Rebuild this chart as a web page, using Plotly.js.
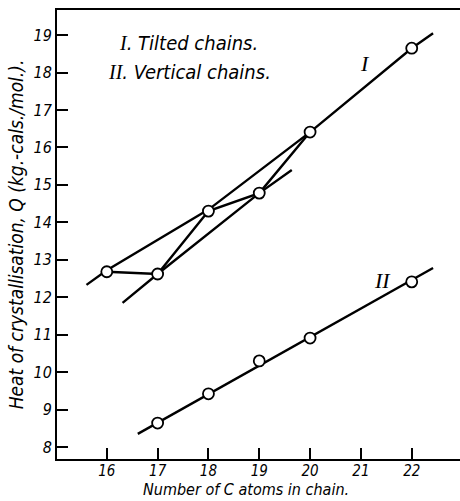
<!DOCTYPE html>
<html>
<head>
<meta charset="utf-8">
<script src="https://cdn.plot.ly/plotly-3.0.1.min.js"></script>
<style>html,body{margin:0;padding:0;background:#fff;}#chart{width:460px;height:501px;}</style>
</head>
<body>
<div id="chart"></div>
<script>
// Series I (tilted chains)
const cAtomsI = [16, 17, 18, 19, 20, 22];
const heatI = [12.68, 12.62, 14.30, 14.78, 16.41, 18.65];
// Series II (vertical chains)
const cAtomsII = [17, 18, 19, 20, 22];
const heatII = [8.64, 9.42, 10.30, 10.91, 12.41];
// Drawn lines
const evenLineX = [15.6, 16, 18, 20, 22, 22.42];
const evenLineY = [12.33, 12.72, 14.34, 16.41, 18.65, 19.05];
const oddLineX = [16.31, 17, 19, 19.64];
const oddLineY = [11.85, 12.62, 14.78, 15.40];
const zigX = [16, 17, 18, 19, 20];
const zigY = [12.68, 12.62, 14.30, 14.78, 16.41];
const fitIIX = [16.61, 22.42];
const fitIIY = [8.35, 12.78];
const xTicks = [16, 17, 18, 19, 20, 21, 22];
const yTicks = [8, 9, 10, 11, 12, 13, 14, 15, 16, 17, 18, 19];

const FONT = 'DejaVu Sans Condensed, Liberation Sans Narrow, DejaVu Sans, sans-serif';
const lineStyle = {color: '#000', width: 2.4};

const traces = [
  {x: evenLineX, y: evenLineY, mode: 'lines', line: lineStyle, hoverinfo: 'skip'},
  {x: oddLineX, y: oddLineY, mode: 'lines', line: lineStyle, hoverinfo: 'skip'},
  {x: zigX, y: zigY, mode: 'lines', line: lineStyle, hoverinfo: 'skip'},
  {x: fitIIX, y: fitIIY, mode: 'lines', line: lineStyle, hoverinfo: 'skip'},
  {x: cAtomsI, y: heatI, mode: 'markers', name: 'I',
   marker: {symbol: 'circle', size: 11, color: '#fff', line: {color: '#000', width: 1.8}}},
  {x: cAtomsII, y: heatII, mode: 'markers', name: 'II',
   marker: {symbol: 'circle', size: 11, color: '#fff', line: {color: '#000', width: 1.8}}}
];

const romanStyle = 'font-family:Liberation Serif, serif;';
const layout = {
  width: 460, height: 501,
  margin: {l: 57, r: 0, t: 10, b: 42},
  paper_bgcolor: '#fff', plot_bgcolor: '#fff',
  showlegend: false,
  font: {family: FONT, color: '#000', style: 'italic'},
  xaxis: {
    range: [15.02, 22.95],
    tickvals: xTicks, ticktext: xTicks.map(String),
    ticks: 'inside', ticklen: 11, tickwidth: 2, tickcolor: '#000',
    showline: true, linewidth: 2, linecolor: '#000', mirror: true,
    showgrid: false, zeroline: false,
    ticklabelstandoff: -3,
    tickfont: {family: FONT, size: 15, style: 'italic', color: '#000'},
    title: {text: ''}
  },
  yaxis: {
    range: [7.68, 19.67],
    tickvals: yTicks, ticktext: yTicks.map(String),
    ticks: 'inside', ticklen: 11, tickwidth: 2, tickcolor: '#000',
    showline: true, linewidth: 2, linecolor: '#000',
    showgrid: false, zeroline: false,
    tickfont: {family: FONT, size: 16, style: 'italic', color: '#000'},
    title: {text: 'Heat of crystallisation, Q (kg.-cals./mol.).', standoff: 5,
            font: {family: FONT, size: 19, style: 'italic', color: '#000'}}
  },
  annotations: [
    {x: 0.47, y: 0, xref: 'paper', yref: 'paper', yshift: -42, xanchor: 'center', yanchor: 'bottom', showarrow: false,
     text: 'Number of C atoms in chain.',
     font: {family: FONT, size: 16, style: 'italic', color: '#000'}},
    {x: 16.2, y: 18.79, xref: 'x', yref: 'y', xanchor: 'left', yanchor: 'middle', showarrow: false,
     text: '<span style="' + romanStyle + '">I</span>. Tilted chains.',
     font: {family: FONT, size: 20, style: 'italic', color: '#000'}},
    {x: 15.98, y: 18.01, xref: 'x', yref: 'y', xanchor: 'left', yanchor: 'middle', showarrow: false,
     text: '<span style="' + romanStyle + '">II</span>. Vertical chains.',
     font: {family: FONT, size: 20, style: 'italic', color: '#000'}},
    {x: 21.08, y: 18.25, xref: 'x', yref: 'y', showarrow: false,
     text: 'I', font: {family: 'Liberation Serif, serif', size: 22, style: 'italic', color: '#000'}},
    {x: 21.43, y: 12.46, xref: 'x', yref: 'y', showarrow: false,
     text: 'II', font: {family: 'Liberation Serif, serif', size: 22, style: 'italic', color: '#000'}}
  ]
};

Plotly.newPlot('chart', traces, layout, {displayModeBar: false, staticPlot: true});
</script>
</body>
</html>
